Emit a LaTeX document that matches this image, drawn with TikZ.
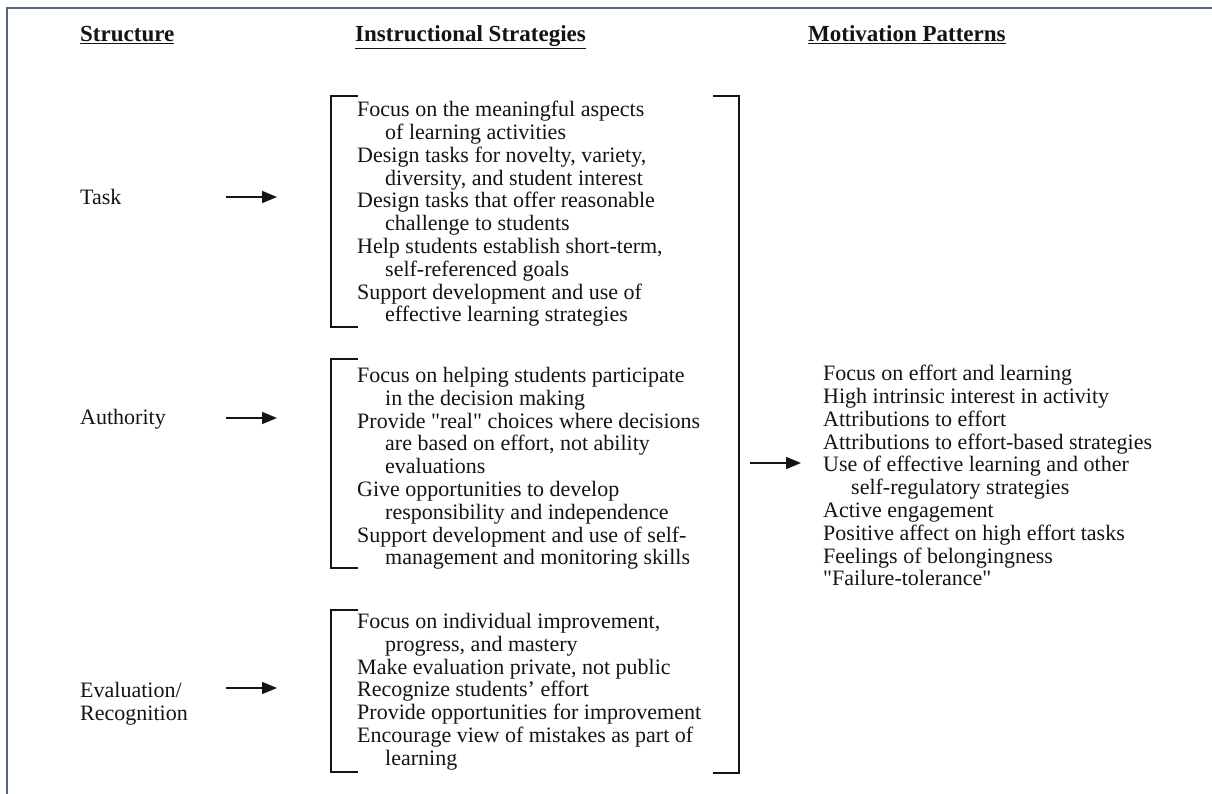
\documentclass[tikz,border=0pt]{standalone}
\usepackage{fontspec}
\setmainfont{Liberation Serif}
\usetikzlibrary{arrows.meta}
\definecolor{ink}{HTML}{141414}
\definecolor{framec}{HTML}{56667F}
\newcommand{\hang}{\hspace*{28pt}}
\tikzset{
  body/.style={font=\fontsize{22}{22.8}\selectfont, text=ink, align=left,
               inner sep=0pt, anchor=north west},
  head/.style={font=\fontsize{23}{26}\selectfont\bfseries, text=ink,
               inner sep=0pt, anchor=base west},
  lab/.style={font=\fontsize{22}{23}\selectfont, text=ink, align=left,
              inner sep=0pt, anchor=base west},
  brk/.style={draw=ink, line width=1.5pt},
  arr/.style={draw=ink, line width=1.6pt, -{Triangle[length=15pt,width=12pt]}},
}
\begin{document}
\begin{tikzpicture}[x=1pt,y=-1pt]
\useasboundingbox (0,0) rectangle (1212,794);
\fill[white] (0,0) rectangle (1212,794);
% outer frame (left and top edges)
\draw[framec, line width=2pt] (7,794) -- (7,8) -- (1212,8);

% column headings
\node[head] (hstruct) at (80,42) {\underline{Structure}};
\node[head] (hstrat)  at (355,42) {\underline{Instructional Strategies}};
\node[head] (hmotiv)  at (808,42) {\underline{Motivation Patterns}};

% structure labels
\node[lab] (task) at (80,205) {Task};
\node[lab] (auth) at (80,424) {Authority};
\node[lab] (eval) at (80,720) {Evaluation/\\Recognition};

% arrows into the strategy groups
\coordinate (taskfrom) at (226,197);
\coordinate (taskto)   at (277,197);
\coordinate (authfrom) at (226,418);
\coordinate (authto)   at (277,418);
\coordinate (evalfrom) at (226,688);
\coordinate (evalto)   at (277,688);
\draw[arr] (taskfrom) -- (taskto);
\draw[arr] (authfrom) -- (authto);
\draw[arr] (evalfrom) -- (evalto);

% strategy groups
\node[body] (tasktxt) at (357,101) {%
Focus on the meaningful aspects\\
\hang of learning activities\\
Design tasks for novelty, variety,\\
\hang diversity, and student interest\\
Design tasks that offer reasonable\\
\hang challenge to students\\
Help students establish short-term,\\
\hang self-referenced goals\\
Support development and use of\\
\hang effective learning strategies};

\node[body] (authtxt) at (357,367) {%
Focus on helping students participate\\
\hang in the decision making\\
Provide \textquotedbl real\textquotedbl{} choices where decisions\\
\hang are based on effort, not ability\\
\hang evaluations\\
Give opportunities to develop\\
\hang responsibility and independence\\
Support development and use of self-\\
\hang management and monitoring skills};

\node[body] (evaltxt) at (357,613) {%
Focus on individual improvement,\\
\hang progress, and mastery\\
Make evaluation private, not public\\
Recognize students' effort\\
Provide opportunities for improvement\\
Encourage view of mistakes as part of\\
\hang learning};

% left brackets of the three groups
\draw[brk] (358,96)  -- (331,96)  -- (331,327) -- (358,327);
\draw[brk] (358,359) -- (331,359) -- (331,568) -- (358,568);
\draw[brk] (358,610) -- (331,610) -- (331,772) -- (358,772);
% right bracket spanning all groups
\draw[brk] (713,96) -- (739,96) -- (739,773) -- (713,773);

% arrow into the motivation patterns
\coordinate (stratout) at (750,463);
\coordinate (motivin)  at (801,463);
\draw[arr] (stratout) -- (motivin);

\node[body] (motivtxt) at (823,365) {%
Focus on effort and learning\\
High intrinsic interest in activity\\
Attributions to effort\\
Attributions to effort-based strategies\\
Use of effective learning and other\\
\hang self-regulatory strategies\\
Active engagement\\
Positive affect on high effort tasks\\
Feelings of belongingness\\
\textquotedbl Failure-tolerance\textquotedbl};
\end{tikzpicture}
\end{document}
